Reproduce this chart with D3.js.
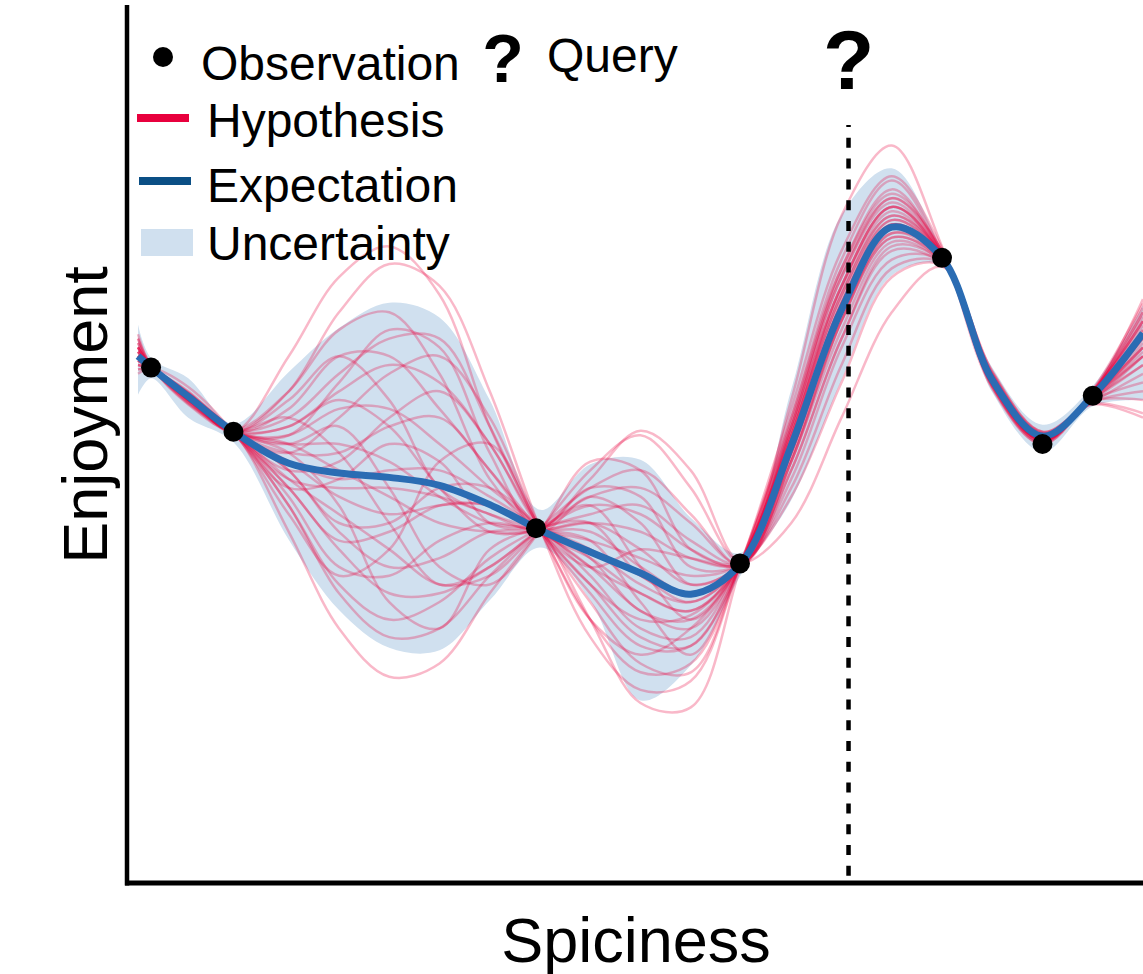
<!DOCTYPE html>
<html>
<head>
<meta charset="utf-8">
<script src="https://cdn.jsdelivr.net/npm/d3@7"></script>
<style>
  html, body { margin: 0; padding: 0; background: #fff; }
  svg { display: block; font-family: "Liberation Sans", Arial, Helvetica, sans-serif; }
</style>
</head>
<body>
<div id="chart"></div>
<script>
const width = 1143;
const height = 974;

// spiciness knots shared by every curve (0..100)
const knots = [0, 1.3, 5, 9.5, 15, 20, 25, 30, 35, 40, 45, 50, 55, 60, 65, 70, 75, 80, 85, 90, 95, 100];

// observed points
const obsX = [1.3, 9.5, 39.6, 59.9, 80, 90, 95];
const obsY = [58.7, 51.4, 40.4, 36.4, 71.2, 50.0, 55.5];

// posterior mean
const meanY = [60.0, 58.7, 55.4, 51.4, 47.8, 46.7, 46.2, 45.3, 43.1, 40.2, 37.7, 35.3, 32.9, 36.4, 49.8, 65.3, 74.7, 71.2, 57.3, 50.9, 55.5, 62.6];

// uncertainty band
const bandHi = [63.6, 59.8, 57.5, 52.3, 58.2, 63.2, 66.1, 64.4, 55.0, 42.5, 47.7, 48.2, 41.6, 37.6, 56.2, 76.1, 81.4, 72.1, 58.7, 52.2, 56.6, 65.8];
const bandLo = [55.6, 57.5, 53.0, 50.2, 39.1, 31.1, 26.8, 26.5, 32.2, 38.2, 32.2, 20.8, 24.8, 35.1, 43.6, 57.3, 69.2, 70.3, 55.9, 49.1, 54.3, 55.0];

// sampled hypotheses
const hypotheses = [
  [61, 58.8, 55, 51.5, 52, 56, 59, 57, 50, 40.5, 34, 30, 30.5, 36.5, 50, 66, 75, 71, 57, 50.5, 55.5, 63],
  [59, 58.5, 56, 51.2, 45, 38, 33, 33, 36, 40.2, 44, 45, 41, 36.3, 48, 64, 74, 71.5, 57.5, 51, 55, 60],
  [62, 58.9, 54.5, 51.6, 56, 63, 65, 58, 46, 40, 37, 33, 31, 36.6, 52, 69, 78, 72, 56.5, 50.2, 56, 64],
  [58, 58.6, 56.5, 51.3, 43, 33, 28, 29, 35, 40.4, 45, 47, 42, 36.2, 47, 62, 72, 70.5, 58, 51.2, 54.8, 58],
  [60, 58.7, 55.5, 51.4, 60, 69, 72.5, 67, 52, 40.3, 30, 24, 25, 36.4, 53, 71, 80, 71.8, 56.8, 50.6, 55.8, 65],
  [59.5, 58.6, 55, 51.4, 40, 29, 23.5, 25, 33, 40.2, 47, 51, 45, 36.5, 46, 61, 71, 70.8, 57.8, 51, 55, 57],
  [60.5, 58.7, 55.2, 51.5, 50, 50, 48, 44, 41, 40.3, 38, 34, 32, 36.4, 50, 66, 75, 71.2, 57.2, 50.8, 55.6, 62],
  [61.5, 58.8, 54.8, 51.3, 48, 44, 42, 43, 43, 40.1, 36, 31, 29, 36.5, 51, 67, 76, 71.6, 57, 50.4, 55.3, 61],
  [59, 58.6, 55.7, 51.6, 53, 58, 62, 62, 52, 40.4, 33, 27, 27, 36.3, 51, 68, 77, 71.4, 57, 50.5, 56, 63.5],
  [60, 58.7, 55.3, 51.4, 44, 36, 35, 39, 41, 40.2, 41, 40, 37, 36.4, 48, 64, 73.5, 70.9, 57.6, 51, 55.2, 60],
  [62.5, 58.9, 54.6, 51.2, 49, 53, 58, 60, 53, 40.6, 32, 25, 24, 36.6, 53, 70, 78.5, 72, 56.6, 50.2, 55.9, 64.5],
  [58.5, 58.5, 55.8, 51.5, 46, 42, 38, 34, 35, 40, 43, 42, 38, 36.2, 48, 63, 73, 70.7, 57.7, 51.1, 55, 59],
  [60, 58.7, 55.4, 51.4, 56, 65, 70.5, 68, 56, 40.4, 28, 22, 23, 36.5, 52, 70, 79, 71.6, 56.9, 50.4, 55.6, 62.5],
  [61, 58.8, 55, 51.3, 47, 40, 36, 37, 40, 40.1, 41, 38, 34, 36.4, 49, 65, 74.5, 71, 57.4, 50.9, 55.4, 61.5],
  [60, 58.7, 55.4, 51.5, 50, 47, 44, 41, 40, 40.3, 46, 51.5, 47, 36.6, 45, 59, 70, 70.6, 58, 51.3, 54.8, 56],
  [59.5, 58.6, 55.6, 51.4, 51, 54, 54, 50, 45, 40.2, 30, 20.5, 20, 36.2, 54, 72, 80.5, 72.3, 56.5, 50, 56.2, 66],
  [60.5, 58.7, 55.1, 51.4, 48, 46, 47, 47, 44, 40.3, 36, 33, 31, 36.5, 55, 76, 84, 72.5, 56.3, 50, 56, 65.5],
  [60, 58.7, 55.4, 51.4, 46, 45, 45, 44, 42, 40.2, 39, 37, 35, 36.3, 44, 57, 69, 70.4, 58.2, 51.4, 54.6, 53.5],
  [61, 58.8, 55, 51.3, 52, 55, 52, 45, 40, 40.1, 40, 36, 33, 36.4, 50, 66, 75.5, 71.3, 57.1, 50.7, 55.5, 62],
  [59, 58.6, 55.8, 51.6, 47, 41, 41, 45, 45, 40.5, 35, 29, 28, 36.6, 51, 67.5, 76.5, 71.5, 56.9, 50.5, 55.7, 63],
  [60, 58.7, 55.4, 51.4, 43, 34, 30, 32, 37, 40.3, 42, 43, 39, 36.4, 49, 64.5, 74, 71, 57.5, 51, 55.3, 60.5],
  [61.5, 58.8, 54.9, 51.3, 54, 60, 60, 54, 47, 40.2, 38, 35, 32, 36.5, 50.5, 66.5, 75.5, 71.3, 57.2, 50.7, 55.5, 61],
  [59.5, 58.6, 55.6, 51.5, 45, 39, 40, 43, 43, 40.4, 37, 31, 30, 36.5, 51.5, 68, 77, 71.7, 56.9, 50.4, 55.8, 64],
  [60.5, 58.7, 55.2, 51.4, 49, 49, 52, 53, 47, 40.1, 34, 28, 27, 36.3, 50.5, 67, 76, 71.4, 57, 50.6, 55.6, 62.5],
  [60, 58.7, 55.3, 51.4, 55, 60, 55, 45, 42, 40.3, 45, 44, 36, 36.4, 47, 62, 72.5, 70.8, 57.6, 51, 55.2, 59],
  [61, 58.8, 55, 51.3, 42, 35, 38, 48, 50, 40.2, 30, 26, 29, 36.5, 52, 69, 77.5, 71.6, 56.8, 50.4, 55.9, 64],
  [59.5, 58.6, 55.6, 51.5, 50, 52, 45, 36, 34, 40.1, 48, 47, 38, 36.3, 41, 53, 65, 70.2, 58.3, 51.4, 54.5, 53],
  [62, 58.9, 54.7, 51.2, 47, 48, 53, 56, 50, 40.4, 36, 38, 37, 36.4, 49, 65, 74.5, 71, 57.4, 50.9, 55.3, 61],
  [58.5, 58.5, 55.9, 51.6, 53, 49, 41, 34, 36, 40.3, 43, 36, 30, 36.6, 51.5, 68, 77, 71.5, 57, 50.5, 55.8, 66.5],
  [60, 58.7, 55.4, 51.4, 45, 46, 50, 48, 41, 40.2, 39, 32, 26, 36.5, 52.5, 69.5, 78, 71.8, 56.7, 50.3, 56.1, 65],
  [60.5, 58.7, 55.2, 51.4, 49, 43, 32, 29, 38, 40.4, 41, 35, 33, 36.4, 49.5, 65.5, 75, 71.1, 57.3, 50.8, 54.9, 55],
  [61, 58.8, 55.1, 51.3, 51, 57, 63, 61, 49, 40.1, 44, 41, 34, 36.5, 48.5, 64, 73.5, 70.9, 57.5, 50.9, 55.4, 60]
];

const queryX = 70.7;

const legendLabels = ["Observation", "Hypothesis", "Expectation", "Uncertainty"];

const red = "#e8003d";
const blue = "#2a6cb3";
const legendBlue = "#0b4f85";
const bandColor = "#d0e0ef";

const svg = d3.select("#chart").append("svg")
  .attr("width", width)
  .attr("height", height);

const xScale = d3.scaleLinear().domain([0, 100]).range([138, 1143]);
const yScale = d3.scaleLinear().domain([0, 100]).range([883, 5]);

const plot = svg.append("g");

// uncertainty band
const area = d3.area()
  .x((d, i) => xScale(knots[i]))
  .y0((d, i) => yScale(bandLo[i]))
  .y1((d) => yScale(d))
  .curve(d3.curveCatmullRom);

plot.append("path")
  .datum(bandHi)
  .attr("d", area)
  .attr("fill", bandColor);

const line = d3.line()
  .x((d, i) => xScale(knots[i]))
  .y((d) => yScale(d))
  .curve(d3.curveCatmullRom);

// hypotheses
plot.selectAll(".hyp")
  .data(hypotheses)
  .join("path")
  .attr("class", "hyp")
  .attr("d", line)
  .attr("fill", "none")
  .attr("stroke", red)
  .attr("stroke-width", 2.5)
  .attr("stroke-opacity", 0.28);

// expectation
plot.append("path")
  .datum(meanY)
  .attr("d", line)
  .attr("fill", "none")
  .attr("stroke", blue)
  .attr("stroke-width", 7)
  .attr("stroke-linejoin", "round");

// query line
plot.append("line")
  .attr("x1", xScale(queryX)).attr("x2", xScale(queryX))
  .attr("y1", 125).attr("y2", 876)
  .attr("stroke", "#000")
  .attr("stroke-width", 4.5)
  .attr("stroke-dasharray", "10,10.8")
  .attr("stroke-dashoffset", 8);

plot.append("text")
  .attr("x", xScale(queryX))
  .attr("y", 89)
  .attr("text-anchor", "middle")
  .attr("font-size", 84)
  .attr("font-weight", "bold")
  .text("?");

// observations
plot.selectAll(".obs")
  .data(obsX)
  .join("circle")
  .attr("class", "obs")
  .attr("cx", (d) => xScale(d))
  .attr("cy", (d, i) => yScale(obsY[i]))
  .attr("r", 10)
  .attr("fill", "#000");

// axes (plain lines, no ticks)
svg.append("line")
  .attr("x1", 127).attr("x2", 127)
  .attr("y1", 5).attr("y2", 885.5)
  .attr("stroke", "#000").attr("stroke-width", 4.5);
svg.append("line")
  .attr("x1", 125).attr("x2", width)
  .attr("y1", 883).attr("y2", 883)
  .attr("stroke", "#000").attr("stroke-width", 5);

svg.append("text")
  .attr("x", 636)
  .attr("y", 962)
  .attr("text-anchor", "middle")
  .attr("font-size", 63)
  .text("Spiciness");

svg.append("text")
  .attr("transform", "translate(107,415) rotate(-90)")
  .attr("text-anchor", "middle")
  .attr("font-size", 63)
  .text("Enjoyment");

// legend
const legend = svg.append("g").attr("font-size", 48);

legend.append("circle").attr("cx", 163).attr("cy", 57).attr("r", 10).attr("fill", "#000");
legend.append("text").attr("x", 201).attr("y", 80).text(legendLabels[0]);

legend.append("rect").attr("x", 137).attr("y", 114).attr("width", 52).attr("height", 8).attr("fill", red);
legend.append("text").attr("x", 207).attr("y", 137).text(legendLabels[1]);

legend.append("rect").attr("x", 139).attr("y", 177).attr("width", 52).attr("height", 8).attr("fill", legendBlue);
legend.append("text").attr("x", 207).attr("y", 202).text(legendLabels[2]);

legend.append("rect").attr("x", 141).attr("y", 229).attr("width", 52).attr("height", 27).attr("fill", bandColor);
legend.append("text").attr("x", 207).attr("y", 260).text(legendLabels[3]);

legend.append("text").attr("x", 503).attr("y", 82)
  .attr("text-anchor", "middle").attr("font-size", 68).attr("font-weight", "bold").text("?");
legend.append("text").attr("x", 547).attr("y", 72).text("Query");
</script>
</body>
</html>
